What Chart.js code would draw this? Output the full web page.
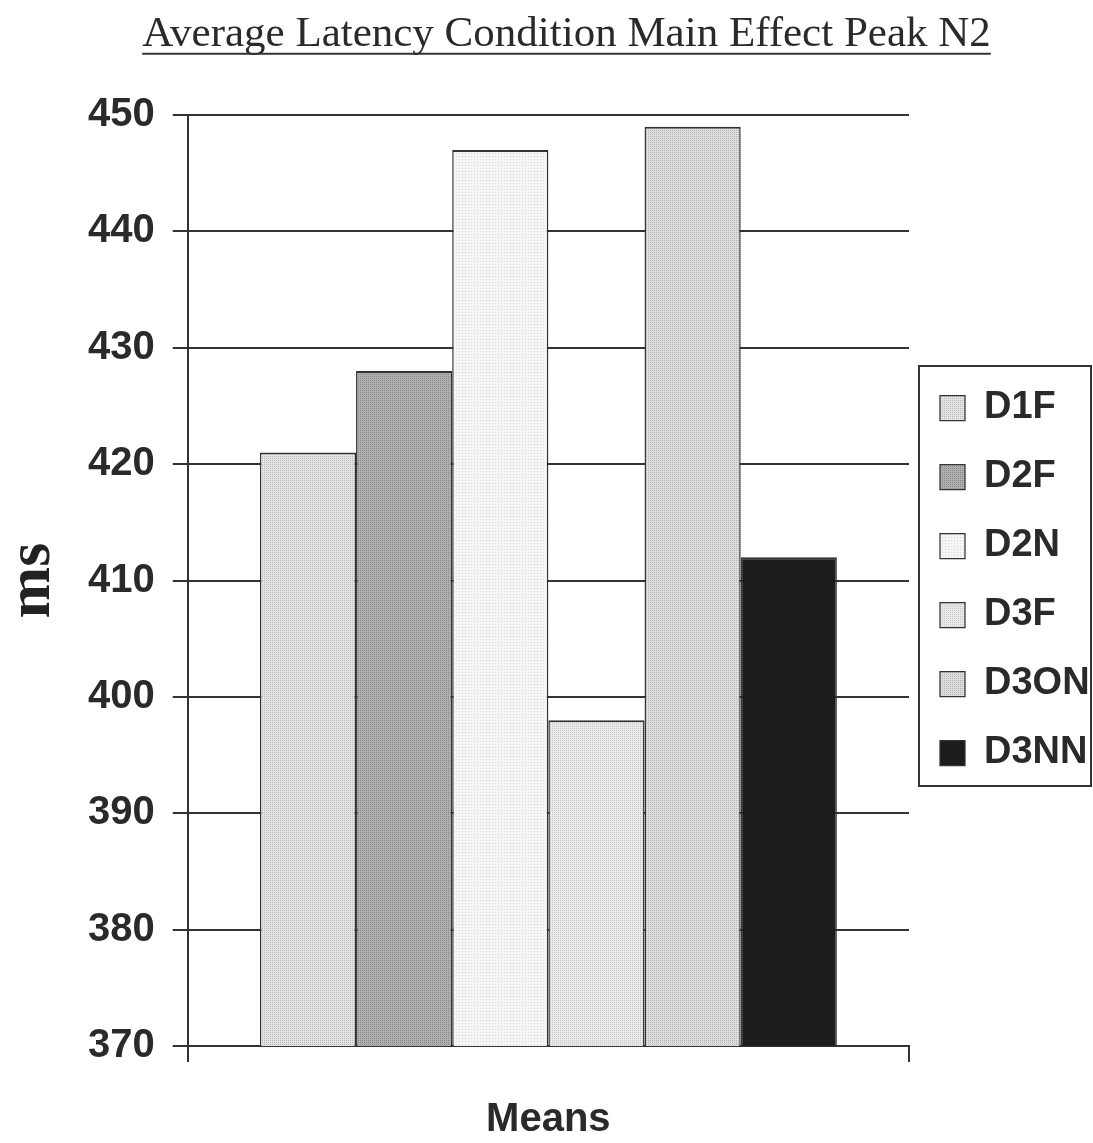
<!DOCTYPE html>
<html>
<head>
<meta charset="utf-8">
<title>Average Latency Condition Main Effect Peak N2</title>
<script src="https://cdn.jsdelivr.net/npm/chart.js@4.4.1/dist/chart.umd.min.js"></script>
<style>
  html, body { margin: 0; padding: 0; background: #ffffff; }
  #wrap { width: 1093px; height: 1143px; }
</style>
</head>
<body>
<div id="wrap"><canvas id="chart" width="1093" height="1143"></canvas></div>
<script>
// ---- data ----
const chartTitle = 'Average Latency Condition Main Effect Peak N2';
const categories = ['Means'];
const conditions = ['D1F', 'D2F', 'D2N', 'D3F', 'D3ON', 'D3NN'];
const latencyMs = [421, 428, 447, 398, 449, 412];
const yTickValues = [370, 380, 390, 400, 410, 420, 430, 440, 450];
const yAxisTitle = 'ms';
const xAxisTitle = 'Means';

// ---- fills: light halftone greys, one solid black ----
const canvas = document.getElementById('chart');
const ctx = canvas.getContext('2d');

function halftone(base, dot, step) {
  const tile = document.createElement('canvas');
  tile.width = step; tile.height = step;
  const g = tile.getContext('2d');
  g.fillStyle = base; g.fillRect(0, 0, step, step);
  g.fillStyle = dot; g.fillRect(0, 0, 1, 1);
  return ctx.createPattern(tile, 'repeat');
}

const fills = [
  halftone('#e4e4e4', '#b8b8b8', 2),
  halftone('#b0b0b0', '#868686', 2),
  halftone('#f5f5f5', '#d8d8d8', 3),
  halftone('#e9e9e9', '#c8c8c8', 2),
  halftone('#dedede', '#b5b5b5', 2),
  '#1c1c1c'
];

const ink = '#2a2a2a';
const lineCol = '#333333';

const datasets = conditions.map((name, i) => ({
  label: name,
  data: [latencyMs[i]],
  backgroundColor: fills[i],
  borderColor: lineCol,
  borderWidth: { top: 2, left: 1.5, right: 1.5, bottom: 0 },
  borderSkipped: false,
  categoryPercentage: 0.8,
  barPercentage: 1.0
}));

// title underline, legend frame, title offset
const decorations = {
  id: 'decorations',
  afterLayout(chart) {
    const t = chart.titleBlock;
    if (t) { t.left += 20; t.right += 20; }
  },
  afterDraw(chart) {
    const c = chart.ctx;
    const h = Chart.helpers;
    const topt = chart.options.plugins.title;
    const f = h.toFont(topt.font);
    const pad = h.toPadding(topt.padding);
    const t = chart.titleBlock;
    c.save();
    c.font = f.string;
    const w = c.measureText(chartTitle).width;
    const cx = (t.left + t.right) / 2;
    const mid = t.top + pad.top + f.lineHeight / 2;
    const uy = mid + f.size * 0.44;
    c.strokeStyle = lineCol;
    c.lineWidth = 2;
    c.beginPath();
    c.moveTo(cx - w / 2, uy);
    c.lineTo(cx + w / 2, uy);
    c.stroke();

    const lg = chart.legend;
    const hb = lg.legendHitBoxes;
    if (hb && hb.length) {
      const first = hb[0], last = hb[hb.length - 1];
      const top = first.top + first.height / 2 - 42;
      const bottom = last.top + last.height / 2 + 33;
      const left = lg.left + 10;
      const right = chart.width - 2;
      c.strokeStyle = lineCol;
      c.lineWidth = 2;
      c.strokeRect(left, top, right - left, bottom - top);
    }
    c.restore();
  }
};

Chart.defaults.font.family = "'Liberation Sans', Arial, sans-serif";
Chart.defaults.color = ink;

new Chart(ctx, {
  type: 'bar',
  data: { labels: categories, datasets },
  plugins: [decorations],
  options: {
    responsive: false,
    animation: false,
    layout: { padding: 0 },
    plugins: {
      title: {
        display: true,
        text: chartTitle,
        color: ink,
        font: { family: "'Liberation Serif', 'Times New Roman', serif", size: 43, weight: 'normal', lineHeight: 1.2 },
        padding: { top: 9, bottom: 54.4 }
      },
      legend: {
        display: true,
        position: 'right',
        fullSize: false,
        maxWidth: 184,
        labels: {
          color: ink,
          font: { size: 38, weight: 'bold' },
          boxWidth: 25,
          boxHeight: 25,
          padding: 31
        }
      },
      tooltip: { enabled: false }
    },
    scales: {
      x: {
        offset: true,
        ticks: { display: false },
        grid: {
          display: true,
          offset: true,
          drawOnChartArea: false,
          drawTicks: true,
          tickLength: 16,
          color: lineCol,
          lineWidth: 2
        },
        border: { display: true, color: lineCol, width: 2 },
        title: {
          display: true,
          text: xAxisTitle,
          color: ink,
          font: { size: 40, weight: 'bold', lineHeight: 1 },
          padding: { top: 38, bottom: 3 }
        }
      },
      y: {
        min: yTickValues[0],
        max: yTickValues[yTickValues.length - 1],
        ticks: {
          stepSize: yTickValues[1] - yTickValues[0],
          color: ink,
          padding: 18,
          font: { size: 40, weight: 'bold' }
        },
        grid: {
          color: lineCol,
          lineWidth: 2,
          drawTicks: true,
          tickLength: 15
        },
        border: { display: true, color: lineCol, width: 2 },
        title: {
          display: true,
          text: yAxisTitle,
          color: '#222222',
          font: { family: "'Liberation Serif', 'Times New Roman', serif", size: 62, weight: 'bold', lineHeight: 1 },
          padding: { top: 2, bottom: 6 }
        }
      }
    }
  }
});
</script>
</body>
</html>
